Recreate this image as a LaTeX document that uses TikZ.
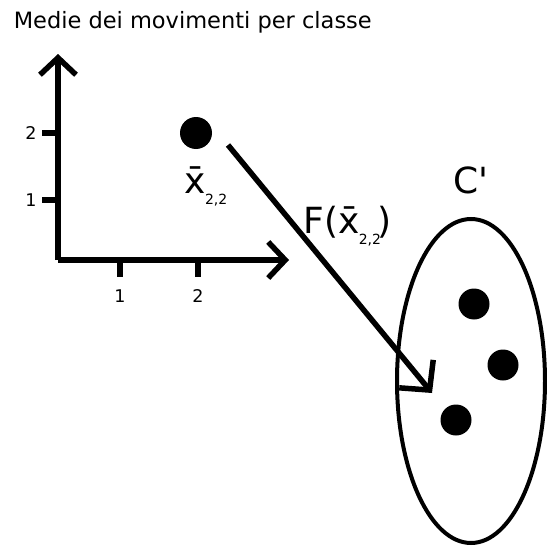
\documentclass[tikz,border=0pt]{standalone}
\usepackage{fontspec}
\setmainfont{DejaVu Sans}
\usetikzlibrary{arrows.meta,positioning,shapes.geometric}

\newcommand{\xmean}{x̄\kern-1pt\raisebox{-11pt}{\fontsize{14}{14}\selectfont 2,2}}

\begin{document}
\begin{tikzpicture}[x=1pt, y=-1pt, line width=5.5pt,
    dot/.style={circle, fill, minimum size=32pt, inner sep=0pt},
    axistip/.style={-{Straight Barb[length=17pt, width=36pt]}},
    maptip/.style={-{Straight Barb[length=21pt, width=44pt]}},
    big/.style={inner sep=0pt, font=\fontsize{36}{38}\selectfont},
    small/.style={font=\fontsize{17.5}{20}\selectfont}]
    \useasboundingbox (0,0) rectangle (547,546);

    \node[anchor=base west, inner sep=0pt, font=\fontsize{22.5}{26}\selectfont] (title) at (11,28) {Medie dei movimenti per classe};

    % Axes
    \coordinate (O) at (58,260);
    \draw[axistip] (O) -- (58,54);
    \draw[axistip] (O) -- (289,260);

    % Tick marks
    \foreach \x/\l in {120/1, 198/2} {
        \draw (\x,260) -- (\x,277);
        \node[small] (xl\l) at (\x,296) {\l};
    }
    \foreach \y/\l in {200/1, 133/2} {
        \draw (42,\y) -- (58,\y);
        \node[small] (yl\l) at (31,\y) {\l};
    }

    % Mean point
    \node[dot] (m) at (196,133) {};
    \node[big, anchor=base west] (mlab) at (182,193) {\xmean};

    % Class C'
    \node[draw, ellipse, line width=4pt, inner sep=0pt, minimum width=148pt, minimum height=324pt] (cls) at (471,381) {};
    \node[big, anchor=base west] (clab) at (451,193) {C\textquotesingle};
    \node[dot, minimum size=31pt] (c1) at (474,304) {};
    \node[dot, minimum size=31pt] (c2) at (503,365) {};
    \node[dot, minimum size=31pt] (c3) at (456,420) {};

    % Map F
    \coordinate (mapfrom) at (228,145);
    \coordinate (mapto) at (432,393);
    \draw[maptip] (mapfrom) -- (mapto);
    \node[big, anchor=base west] (flab) at (301,233) {F(\xmean\kern-4pt)};
\end{tikzpicture}
\end{document}
